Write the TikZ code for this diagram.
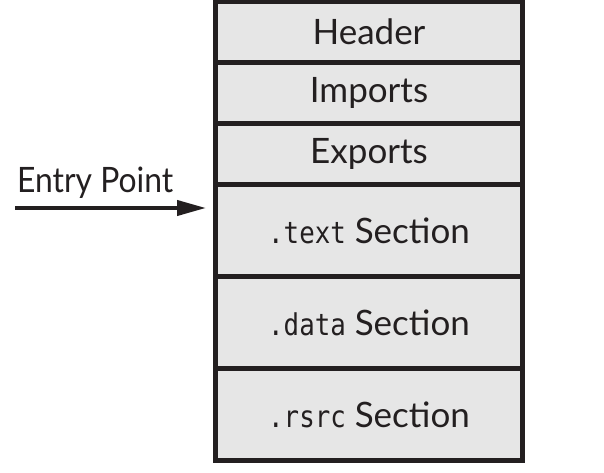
\documentclass[tikz,border=0pt]{standalone}
\usepackage{fontspec}
\setmainfont{Lato}
\newfontfamily\labelfont[FakeStretch=0.91]{Lato}
\newfontfamily\codefont[FakeStretch=0.86]{DejaVu Sans Mono}
\usepackage{tikz}
\usetikzlibrary{
    positioning,
    arrows.meta
}
\definecolor{inkdark}{HTML}{231F20}
\definecolor{cellgray}{HTML}{E6E6E6}
\tikzset{
    >=Stealth,
    cell/.style={
        draw=inkdark,
        fill=cellgray,
        line width=5pt,
        outer sep=0pt,
        inner sep=0pt,
        minimum width=307pt,
        text=inkdark,
        font=\fontsize{35}{38}\selectfont
    },
    small cell/.style={cell, minimum height=61pt},
    big cell/.style={cell, minimum height=92pt}
}
\newcommand{\sect}[1]{{\codefont\fontsize{30}{38}\selectfont #1}}

\begin{document}
\begin{tikzpicture}[
    x=1pt, y=-1pt,
    >={Triangle[length=29pt,width=15pt]}
]
    \useasboundingbox (0,0) rectangle (604,473);

    % Bloques del fichero
    \node[small cell] (hdr) at (369,32) {Header};
    \node[small cell, below=0pt of hdr] (imp)  {Imports};
    \node[small cell, below=0pt of imp] (exp)  {Exports};
    \node[big cell,   below=0pt of exp] (txt)  {\sect{.text} Section};
    \node[big cell,   below=0pt of txt] (dat)  {\sect{.data} Section};
    \node[big cell,   below=0pt of dat] (rsrc) {\sect{.rsrc} Section};

    % Punto de entrada
    \node[anchor=base west, inner sep=0pt, text=inkdark,
          font=\labelfont\fontsize{35}{38}\selectfont] (entry) at (17,192) {Entry Point};
    \coordinate (ep) at (15,208);
    \draw[->, line width=4pt, inkdark, shorten >=9.5pt] (ep) -- (ep -| txt.west);

\end{tikzpicture}
\end{document}
